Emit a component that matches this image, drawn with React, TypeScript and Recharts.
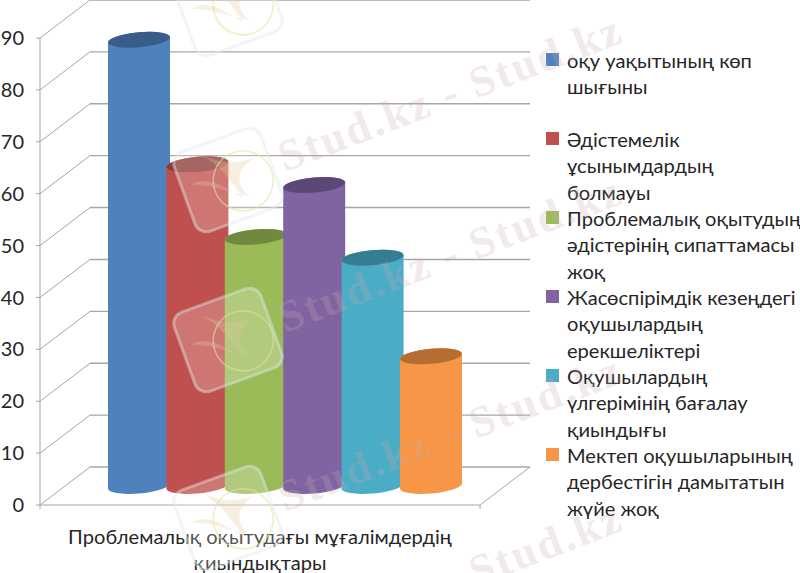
import { BarChart, Bar, XAxis, YAxis, CartesianGrid, Legend } from "recharts";

const categories = ["Проблемалық оқытудағы мұғалімдердің\nқиындықтары"];
const seriesNames = [
  "оқу уақытының көп\nшығыны",
  "Әдістемелік\nұсынымдардың\nболмауы",
  "Проблемалық оқытудың\nәдістерінің сипаттамасы\nжоқ",
  "Жасөспірімдік кезеңдегі\nоқушылардың\nерекшеліктері",
  "Оқушылардың\nүлгерімінің бағалау\nқиындығы",
  "Мектеп оқушыларының\nдербестігін дамытатын\nжүйе жоқ",
];
const seriesValues = [86, 62, 48, 58, 44, 25];
const sideColors = ["#4f81bd", "#c0504d", "#9bbb59", "#8064a2", "#4bacc6", "#f79646"];
const topColors = ["#385d8a", "#8c3a38", "#71893f", "#5c4776", "#357d91", "#b66d31"];
const yTicks = [0, 10, 20, 30, 40, 50, 60, 70, 80, 90];

// faint site stamp that lies over the whole picture
const stampText = "Stud.kz - Stud.kz";
const stampRows = [172, 333, 512, 660];
const stampTiles = [4, 180, 340, 518];

const FONT = "Lato, Carlito, 'Noto Sans', sans-serif";
const DEPTH_X = 50;
const DEPTH_Y = 38;
const GRID = "#a6a6a6";

const data = categories.map((name) => {
  const row: Record<string, string | number> = { name };
  seriesValues.forEach((v, i) => (row["s" + i] = v));
  return row;
});

// cylinder drawn half way back on the floor
function Cylinder(props: any) {
  const { x, y, width, height, index, fill, top } = props;
  const left = x + DEPTH_X / 2;
  const right = left + width;
  const topY = y - DEPTH_Y / 2;
  const baseY = y + height - DEPTH_Y / 2;
  const rx = width / 2;
  const ry = 7.5;
  const tilt = 2.5;
  return (
    <g key={index}>
      <path
        d={`M${left},${topY + tilt} L${left},${baseY + tilt}
            A${rx},${ry} -5 0 0 ${right},${baseY - tilt}
            L${right},${topY - tilt}
            A${rx},${ry} -5 0 0 ${left},${topY + tilt} Z`}
        fill={fill}
      />
      <ellipse cx={left + rx} cy={topY} rx={rx} ry={ry} fill={top} transform={`rotate(-5 ${left + rx} ${topY})`} />
    </g>
  );
}

// wall + floor lines for each value step
function WallLine(props: any) {
  const { x1, x2, y1, index } = props;
  const isFloor = y1 > 500;
  return (
    <g key={index} stroke={GRID} fill="none" strokeWidth={1}>
      <line x1={x1} y1={y1} x2={x1 + DEPTH_X} y2={y1 - DEPTH_Y} />
      <line x1={x1 + DEPTH_X} y1={y1 - DEPTH_Y} x2={x2 + DEPTH_X} y2={y1 - DEPTH_Y} strokeWidth={1.4} />
      {isFloor && <line x1={x2} y1={y1} x2={x2 + DEPTH_X} y2={y1 - DEPTH_Y} />}
      {isFloor && <line x1={x2} y1={y1} x2={x2} y2={y1 + 4} />}
      {isFloor && <line x1={x1} y1={y1} x2={x1} y2={y1 + 4} />}
    </g>
  );
}

function CategoryTick(props: any) {
  const { x, y, payload } = props;
  return (
    <text x={x} y={y} textAnchor="middle" fontFamily={FONT} fontSize={20.1} fill="#262626">
      {String(payload.value).split("\n").map((line, i) => (
        <tspan key={i} x={x} dy={i === 0 ? 31 : 26}>{line}</tspan>
      ))}
    </text>
  );
}

function LegendBlock() {
  return (
    <div style={{ fontFamily: FONT, fontSize: 20.1, lineHeight: "26.3px", color: "#262626" }}>
      {seriesNames.map((name, i) => (
        <div key={i} style={{ position: "relative", height: 79, paddingLeft: 21, whiteSpace: "pre", textAlign: "left" }}>
          <span style={{ position: "absolute", left: 0, top: 6, width: 13, height: 13, background: sideColors[i] }} />
          {name}
        </div>
      ))}
    </div>
  );
}

function Stamp() {
  return (
    <svg width={800} height={573} style={{ position: "absolute", left: 0, top: 0, pointerEvents: "none" }}>
      {stampRows.map((y) => (
        <text
          key={y}
          x={285}
          y={y}
          transform={`rotate(-21 285 ${y})`}
          fontFamily="'Liberation Serif', serif"
          fontWeight="bold"
          fontSize={44}
          letterSpacing={2.5}
          fill="#c9a9ad"
          opacity={0.25}
        >
          {stampText}
        </text>
      ))}
      {stampTiles.map((cy) => (
        <g key={cy} transform={`translate(228 ${cy}) rotate(-20)`}>
          <rect x={-46} y={-42} width={92} height={84} rx={12} fill="#ffffff" fillOpacity={0.22} stroke="#dcecec" strokeOpacity={0.45} strokeWidth={3} />
          <circle cx={14} cy={6} r={30} fill="none" stroke="#e4e49a" strokeOpacity={0.6} strokeWidth={1.5} />
          <path d="M-36,-8 C-14,-12 -4,10 8,22 C2,-2 -4,-18 -16,-32 C-4,-22 8,-12 32,-12 C10,-6 6,6 14,22 C-2,14 -16,-2 -36,-8 Z" fill="#e6c9a0" fillOpacity={0.3} />
        </g>
      ))}
    </svg>
  );
}

export default function App() {
  return (
    <div style={{ position: "absolute", left: 0, top: 0, width: 800, height: 573, overflow: "hidden", background: "#fff" }}>
      <BarChart
        width={800}
        height={573}
        data={data}
        margin={{ top: 38, right: 320, bottom: 0, left: 0 }}
        barSize={62}
        barGap={-3.6}
      >
        <CartesianGrid horizontal={WallLine} vertical={false} />
        <XAxis dataKey="name" tick={CategoryTick} tickLine={false} stroke={GRID} interval={0} height={68} />
        <YAxis
          domain={[0, 90]}
          ticks={yTicks}
          width={40}
          stroke={GRID}
          tickSize={4}
          tickMargin={12}
          tick={{ fontFamily: FONT, fontSize: 20, fill: "#262626" }}
          interval={0}
        />
        <Legend
          layout="horizontal"
          verticalAlign="middle"
          content={<LegendBlock />}
          wrapperStyle={{ position: "absolute", left: 546, top: 47, width: 254, bottom: "auto" }}
        />
        {seriesNames.map((name, i) => (
          <Bar
            key={i}
            dataKey={"s" + i}
            name={name}
            fill={sideColors[i]}
            isAnimationActive={false}
            shape={(p: any) => <Cylinder {...p} top={topColors[i]} />}
          />
        ))}
      </BarChart>
      <Stamp />
    </div>
  );
}
